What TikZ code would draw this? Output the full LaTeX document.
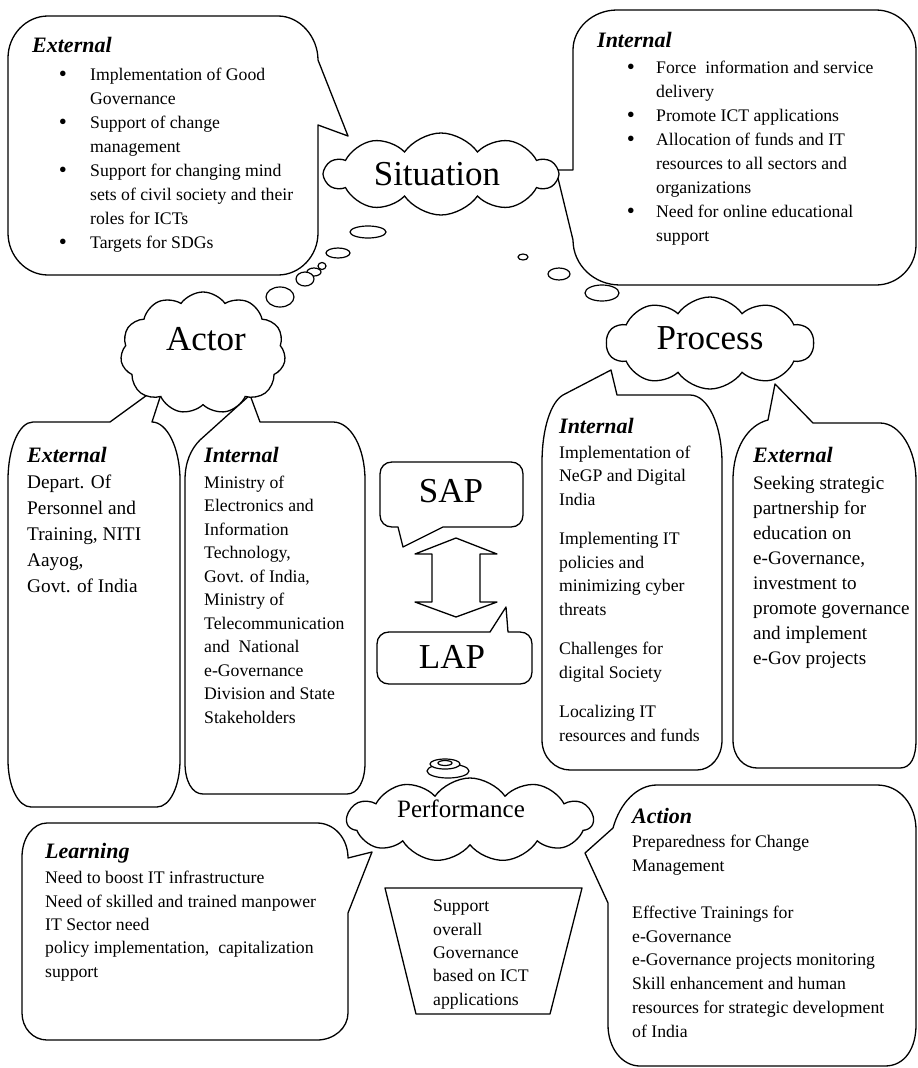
\documentclass[tikz,border=0pt]{standalone}
\usepackage{fontspec}
\setmainfont{Liberation Serif}
\usetikzlibrary{shapes.symbols}
\begin{document}
\begin{tikzpicture}[x=1pt,y=-1pt,
  shp/.style={draw=black,line width=1.3pt,fill=white,line join=round},
  cl/.style={cloud,draw=black,line width=1.3pt,fill=white,cloud ignores aspect,cloud puff arc=110,inner sep=0pt},
  bub/.style={draw=black,line width=1.2pt,fill=white},
  head/.style={font=\fontsize{22}{26}\selectfont\bfseries\itshape,anchor=base west,inner sep=0pt},
  body/.style={font=\fontsize{17.7}{23.5}\selectfont,align=left,anchor=base west,inner sep=0pt},
  bul/.style={font=\fontsize{23}{26}\selectfont,anchor=base,inner sep=0pt,yshift=-1.5pt},
  bigtxt/.style={font=\fontsize{35}{40}\selectfont,anchor=base,inner sep=0pt},
  perftxt/.style={font=\fontsize{25}{30}\selectfont,anchor=base,inner sep=0pt}]
\fill[white] (0,0) rectangle (918,1068);
\useasboundingbox (0,0) rectangle (918,1068);

% ---- callout shapes ----
% top-left External (Situation)
\draw[shp] (48,16) -- (278,16) .. controls (300,16) and (318,37) .. (318,60) -- (348,136) -- (318,125) -- (318,233) .. controls (318,256) and (300,275) .. (278,275) -- (48,275) .. controls (26,275) and (8,256) .. (8,233) -- (8,58) .. controls (8,35) and (26,16) .. (48,16) -- cycle;
% top-right Internal (Situation)
\draw[shp] (617,10) -- (876,10) .. controls (898,10) and (916,28) .. (916,50) -- (916,245) .. controls (916,267) and (898,285) .. (876,285) -- (620,285) .. controls (594,285) and (573,265) .. (573,240) -- (556,170) -- (573,170) -- (573,50) .. controls (573,28) and (593,10) .. (617,10) -- cycle;
% Actor External
\draw[shp] (33,422) -- (110,422) -- (165,382) -- (152,422) .. controls (167,422) and (180,448) .. (180,480) -- (180,760) .. controls (180,786) and (170,807) .. (157,807) -- (31,807) .. controls (18,807) and (8,786) .. (8,760) -- (8,480) .. controls (8,448) and (19,422) .. (33,422) -- cycle;
% Actor Internal
\draw[shp] (185,480) .. controls (185,462) and (191,449) .. (200,440) -- (250,395) -- (260,422) -- (333,422) .. controls (351,422) and (365,448) .. (365,480) -- (365,763) .. controls (365,781) and (358,794) .. (347,794) -- (203,794) .. controls (192,794) and (185,781) .. (185,763) -- cycle;
% SAP
\draw[shp] (392,462) -- (511,462) .. controls (518,462) and (523,467) .. (523,474) -- (523,515) .. controls (523,522) and (518,527) .. (511,527) -- (443,527) -- (403,547) -- (398,527) -- (392,527) .. controls (385,527) and (380,522) .. (380,515) -- (380,474) .. controls (380,467) and (385,462) .. (392,462) -- cycle;
% LAP
\draw[shp] (389,632) -- (490,632) -- (506,607) -- (508,632) -- (520,632) .. controls (527,632) and (532,637) .. (532,644) -- (532,672) .. controls (532,679) and (527,684) .. (520,684) -- (389,684) .. controls (382,684) and (377,679) .. (377,672) -- (377,644) .. controls (377,637) and (382,632) .. (389,632) -- cycle;
% double arrow
\draw[shp] (456,538) -- (497,554) -- (480,554) -- (480,602) -- (497,602) -- (456,617) -- (415,602) -- (432,602) -- (432,554) -- (415,554) -- cycle;
% Process Internal
\draw[shp] (563,395) -- (611,370) -- (617,395) -- (690,395) .. controls (708,395) and (722,425) .. (722,463) -- (722,740) .. controls (722,757) and (711,770) .. (697,770) -- (570,770) .. controls (555,770) and (542,757) .. (542,740) -- (542,463) .. controls (542,428) and (551,402) .. (563,395) -- cycle;
% Process External
\draw[shp] (768,420) -- (775,384) -- (813,423) -- (880,423) .. controls (900,423) and (916,450) .. (916,480) -- (916,740) .. controls (916,757) and (911,768) .. (900,768) -- (757,768) .. controls (744,768) and (733,757) .. (733,740) -- (733,480) .. controls (733,448) and (748,425) .. (768,420) -- cycle;
% Learning
\draw[shp] (47,823) -- (317,823) .. controls (334,823) and (348,838) .. (348,858) -- (372,852) -- (348,913) -- (348,1013) .. controls (348,1028) and (334,1040) .. (317,1040) -- (47,1040) .. controls (33,1040) and (22,1028) .. (22,1013) -- (22,857) .. controls (22,838) and (33,823) .. (47,823) -- cycle;
% Action
\draw[shp] (657,785) -- (877,785) .. controls (900,785) and (916,805) .. (916,830) -- (916,1025) .. controls (916,1048) and (905,1066) .. (885,1066) -- (640,1066) .. controls (622,1066) and (608,1048) .. (608,1025) -- (608,903) -- (585,853) -- (613,828) .. controls (620,803) and (637,785) .. (657,785) -- cycle;
% trapezoid
\draw[shp] (385,888) -- (582,888) -- (550,1014) -- (416,1014) -- cycle;

% ---- clouds ----
\node[cl,minimum width=232pt,minimum height=82pt,cloud puffs=10] (sitC) at (441,174) {};
\node[cl,minimum width=165pt,minimum height=122pt,cloud puffs=11] (actC) at (203,353) {};
\node[cl,minimum width=207pt,minimum height=92pt,cloud puffs=10] (proC) at (710,343) {};
\node[cl,minimum width=246pt,minimum height=84pt,cloud puffs=11] (perC) at (470,820) {};

% ---- thought bubbles ----
\draw[bub] (368,232) ellipse [x radius=18, y radius=6];
\draw[bub] (338,253) ellipse [x radius=12, y radius=5];
\draw[bub] (322,266) ellipse [x radius=4, y radius=3.5];
\draw[bub] (314,272) ellipse [x radius=7, y radius=4];
\draw[bub] (305,279) ellipse [x radius=9, y radius=7];
\draw[bub] (280,297) ellipse [x radius=14, y radius=10];
\draw[bub] (523,257) ellipse [x radius=5, y radius=3];
\draw[bub] (559,274) ellipse [x radius=11, y radius=6];
\draw[bub] (602,293) ellipse [x radius=17, y radius=8];
\draw[bub] (448,771) ellipse [x radius=21, y radius=7];
\draw[bub] (445,764) ellipse [x radius=15, y radius=5];
\draw[bub] (445,763) ellipse [x radius=7, y radius=2.5];

% ---- cloud texts ----
\node[bigtxt] (sitT) at (437,185) {Situation};
\node[bigtxt] (actT) at (206,350) {Actor};
\node[bigtxt] (proT) at (710,349) {Process};
\node[bigtxt] (sapT) at (451,502) {SAP};
\node[bigtxt] (lapT) at (452,668) {LAP};
\node[perftxt] (perT) at (461,817) {Performance};

% ---- top-left External ---- (multi-line nodes: base = last line)
\node[head] (tlH) at (32,52) {External};
\node[body,font=\fontsize{17.7}{24}\selectfont] (tlT) at (90,248) {Implementation of Good\\Governance\\Support of change\\management\\Support for changing mind\\sets of civil society and their\\roles for ICTs\\Targets for SDGs};
\node[bul] (tlb1) at (63,80) {•};
\node[bul] (tlb2) at (63,128) {•};
\node[bul] (tlb3) at (63,176) {•};
\node[bul] (tlb4) at (63,248) {•};

% ---- top-right Internal ----
\node[head] (trH) at (597,47) {Internal};
\node[body,font=\fontsize{17.7}{24}\selectfont] (trT) at (656,241) {Force\ \ information and service\\delivery\\Promote ICT applications\\Allocation of funds and IT\\resources to all sectors and\\organizations\\Need for online educational\\support};
\node[bul] (trb1) at (631,73) {•};
\node[bul] (trb2) at (631,121) {•};
\node[bul] (trb3) at (631,145) {•};
\node[bul] (trb4) at (631,217) {•};

% ---- Actor External ----
\node[head] (aeH) at (27,462) {External};
\node[body,font=\fontsize{19.3}{25.8}\selectfont] (aeT) at (27,592) {Depart. Of\\Personnel and\\Training, NITI\\Aayog,\\Govt. of India};

% ---- Actor Internal ----
\node[head] (aiH) at (204,462) {Internal};
\node[body] (aiT) at (204,723) {Ministry of\\Electronics and\\Information\\Technology,\\Govt. of India,\\Ministry of\\Telecommunication\\and\ \ National\\e-Governance\\Division and State\\Stakeholders};

% ---- Process Internal ----
\node[head] (piH) at (559,433) {Internal};
\node[body] (piT) at (559,741) {Implementation of\\NeGP and Digital\\India\\[16pt]Implementing IT\\policies and\\minimizing cyber\\threats\\[16pt]Challenges for\\digital Society\\[16pt]Localizing IT\\resources and funds};

% ---- Process External ----
\node[head] (peH) at (753,462) {External};
\node[body,font=\fontsize{19.1}{25}\selectfont] (peT) at (753,664) {Seeking strategic\\partnership for\\education on\\e-Governance,\\investment to\\promote governance\\and implement\\e-Gov projects};

% ---- Learning ----
\node[head] (lnH) at (45,858) {Learning};
\node[body,font=\fontsize{17.7}{23.3}\selectfont] (lnT) at (45,977) {Need to boost IT infrastructure\\Need of skilled and trained manpower\\IT Sector need\\policy implementation,\ \ capitalization\\support};

% ---- Performance trapezoid ----
\node[body,font=\fontsize{17.7}{23.3}\selectfont] (pfT) at (433,1005) {Support\\overall\\Governance\\based on ICT\\applications};

% ---- Action ----
\node[head] (acH) at (632,823) {Action};
\node[body,font=\fontsize{17.7}{23.7}\selectfont] (acT) at (632,1037) {Preparedness for Change\\Management\\[23.7pt]Effective Trainings for\\e-Governance\\e-Governance projects monitoring\\Skill enhancement and human\\resources for strategic development\\of India};
\end{tikzpicture}
\end{document}
